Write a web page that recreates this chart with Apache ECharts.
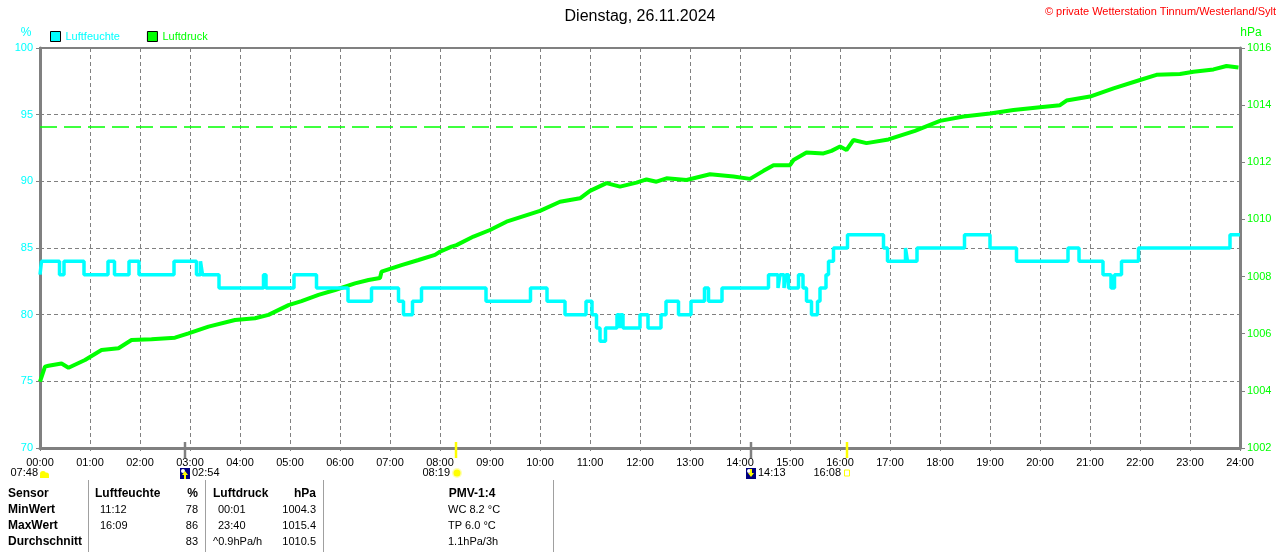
<!DOCTYPE html>
<html>
<head>
<meta charset="utf-8">
<script src="https://cdn.jsdelivr.net/npm/echarts@6/dist/echarts.min.js"></script>
<style>
html,body{margin:0;padding:0;background:#fff}
#main{width:1280px;height:552px}
</style>
</head>
<body>
<div id="main"></div>
<script>
var titleText = 'Dienstag, 26.11.2024';
var creditText = '\u00a9 private Wetterstation Tinnum/Westerland/Sylt';

// Luftdruck (hPa), Zeit in Stunden
var pressTime = [0, 0.1, 0.17, 0.43, 0.57, 0.9, 1.23, 1.57, 1.83, 2.23, 2.7, 2.97, 3.37, 3.9, 4.3, 4.57, 4.97,
  5.23, 5.57, 5.9, 6.3, 6.57, 6.8, 6.83, 7.23, 7.57, 7.9, 8.0, 8.23, 8.33, 8.67, 9.0, 9.33, 10.0, 10.4, 10.8,
  11.0, 11.33, 11.6, 11.93, 12.13, 12.33, 12.53, 12.93, 13.4, 13.87, 14.2, 14.47, 14.67, 15.0, 15.07, 15.33,
  15.67, 15.83, 16.0, 16.13, 16.27, 16.53, 16.97, 17.5, 18.0, 18.47, 19.0, 19.47, 20.0, 20.4, 20.53, 21.0,
  21.47, 22.0, 22.33, 22.8, 23.07, 23.47, 23.73, 23.97];
var pressVal = [1004.32, 1004.85, 1004.88, 1004.96, 1004.81, 1005.08, 1005.43, 1005.49, 1005.78, 1005.81,
  1005.86, 1006.01, 1006.25, 1006.48, 1006.54, 1006.66, 1007.0, 1007.14, 1007.36, 1007.53, 1007.76, 1007.88,
  1007.95, 1008.17, 1008.4, 1008.58, 1008.76, 1008.87, 1009.05, 1009.1, 1009.4, 1009.63, 1009.92, 1010.3,
  1010.62, 1010.74, 1011.0, 1011.27, 1011.15, 1011.29, 1011.4, 1011.32, 1011.44, 1011.38, 1011.58, 1011.5,
  1011.42, 1011.7, 1011.9, 1011.9, 1012.08, 1012.34, 1012.31, 1012.4, 1012.55, 1012.43, 1012.78, 1012.67,
  1012.8, 1013.1, 1013.45, 1013.6, 1013.71, 1013.83, 1013.93, 1014.0, 1014.16, 1014.3, 1014.59, 1014.88,
  1015.06, 1015.09, 1015.17, 1015.25, 1015.37, 1015.32];

// Luftfeuchte (%), Wechselzeitpunkte in Stunden
var humTime = [0, 0.03, 0.39, 0.48, 0.88, 1.36, 1.49, 1.78, 1.98, 2.68, 3.13, 3.21, 3.25, 3.58, 4.47, 4.52,
  5.08, 5.53, 6.16, 6.63, 7.17, 7.27, 7.45, 7.63, 8.92, 9.81, 10.14, 10.5, 10.92, 11.04, 11.13, 11.2, 11.31,
  11.54, 11.59, 11.61, 11.66, 12.0, 12.16, 12.42, 12.52, 12.77, 13.02, 13.29, 13.37, 13.64, 14.57, 14.76,
  14.8, 14.88, 14.92, 14.97, 15.17, 15.26, 15.33, 15.43, 15.55, 15.6, 15.72, 15.77, 15.87, 16.15, 16.87,
  16.95, 17.31, 17.35, 17.54, 18.49, 19.0, 19.53, 20.56, 20.78, 21.26, 21.42, 21.49, 21.63, 21.97, 23.8, 24];
var humVal = [83, 84, 83, 84, 83, 84, 83, 84, 83, 84, 83, 84, 83, 82, 83, 82,
  83, 82, 81, 82, 81, 80, 81, 82, 81, 82, 81, 80, 81, 80, 79, 78, 79,
  80, 79, 80, 79, 80, 79, 80, 81, 80, 81, 82, 81, 82, 83, 82,
  83, 82, 83, 82, 83, 82, 81, 80, 81, 82, 83, 84, 85, 86, 85,
  84, 85, 84, 85, 86, 85, 84, 85, 84, 83, 82, 83, 84, 85, 86, 86];

var refPressure = 1013.25;

// Mond/Sonne unter der Zeitachse
var events = [
  {time: '02:54', kind: 'moonUp'},
  {time: '08:19', kind: 'sunrise'},
  {time: '14:13', kind: 'moonDown'},
  {time: '16:08', kind: 'sunset'}
];
var dawnText = '07:48';

var tableRows = [
  ['Sensor', 'Luftfeuchte', '%', 'Luftdruck', 'hPa', 'PMV-1:4'],
  ['MinWert', '11:12', '78', '00:01', '1004.3', 'WC 8.2 \u00b0C'],
  ['MaxWert', '16:09', '86', '23:40', '1015.4', 'TP 6.0 \u00b0C'],
  ['Durchschnitt', '', '83', '^0.9hPa/h', '1010.5', '1.1hPa/3h']
];

var FONT = '"Liberation Sans", Arial, sans-serif';
var GREY = '#808080';
var CYAN = '#00ffff';
var GREEN = '#00ff00';

function pad(n){ return (n < 10 ? '0' : '') + n; }
function toHours(s){ var p = s.split(':'); return +p[0] + p[1] / 60; }

var humData = [], pressData = [];
for (var i = 0; i < humTime.length; i++) humData.push([humTime[i], humVal[i]]);
for (var j = 0; j < pressTime.length; j++) pressData.push([pressTime[j], pressVal[j]]);

var myChart = echarts.init(document.getElementById('main'));

var option = {
  animation: false,
  backgroundColor: '#fff',
  textStyle: {fontFamily: FONT},
  title: {
    text: titleText,
    left: 'center',
    top: 4,
    textStyle: {fontSize: 16, fontWeight: 'normal', color: '#000', fontFamily: FONT}
  },
  legend: {
    left: 50,
    top: 31,
    padding: 0,
    itemWidth: 10,
    itemHeight: 10,
    itemGap: 27,
    icon: 'rect',
    itemStyle: {borderColor: '#000', borderWidth: 1},
    textStyle: {fontSize: 11, fontFamily: FONT},
    data: [
      {name: 'Luftfeuchte', textStyle: {color: CYAN}},
      {name: 'Luftdruck', textStyle: {color: GREEN}}
    ]
  },
  grid: {
    left: 40, right: 40, top: 48, height: 400,
    show: true, borderColor: GREY, borderWidth: 2, backgroundColor: '#fff'
  },
  xAxis: {
    type: 'value',
    min: 0, max: 24, interval: 1,
    axisLine: {show: true, lineStyle: {color: GREY, width: 3}},
    axisTick: {show: true, length: 3, lineStyle: {color: GREY}},
    axisLabel: {
      color: '#000', fontSize: 11, fontFamily: FONT, margin: 9,
      formatter: function(v){ return pad(v) + ':00'; }
    },
    splitLine: {show: true, lineStyle: {color: GREY, type: [4, 3], width: 1}}
  },
  yAxis: [
    {
      type: 'value',
      min: 70, max: 100, interval: 5,
      position: 'left',
      axisLine: {show: true, lineStyle: {color: GREY, width: 3}},
      axisTick: {show: true, length: 4, lineStyle: {color: GREY}},
      axisLabel: {color: CYAN, fontSize: 11, fontFamily: FONT, margin: 7},
      splitLine: {show: true, lineStyle: {color: GREY, type: [4, 3], width: 1}}
    },
    {
      type: 'value',
      min: 1002, max: 1016, interval: 2,
      position: 'right',
      axisLine: {show: true, lineStyle: {color: GREY, width: 3}},
      axisTick: {show: true, length: 5, lineStyle: {color: GREY}},
      axisLabel: {
        color: GREEN, fontSize: 11, fontFamily: FONT, margin: 7,
        formatter: function(v){ return String(v); }
      },
      splitLine: {show: false}
    }
  ],
  series: [
    {
      name: 'Luftdruck',
      type: 'line',
      yAxisIndex: 1,
      data: pressData,
      showSymbol: false,
      color: GREEN,
      lineStyle: {color: GREEN, width: 4},
      markLine: {
        silent: true,
        symbol: 'none',
        label: {show: false},
        lineStyle: {color: GREEN, type: [17, 7], width: 1.5},
        data: [{yAxis: refPressure}]
      },
      z: 2
    },
    {
      name: 'Luftfeuchte',
      type: 'line',
      yAxisIndex: 0,
      data: humData,
      step: 'end',
      showSymbol: false,
      color: CYAN,
      lineStyle: {color: CYAN, width: 3.5},
      z: 3
    }
  ]
};

myChart.setOption(option);

// Texte, Symbole und Tabelle
var g = [];
function txt(x, y, s, color, size, bold, align){
  g.push({type: 'text', x: x, y: y, silent: true, style: {
    text: s, fill: color, font: (bold ? 'bold ' : '') + size + 'px ' + FONT,
    textAlign: align || 'left', textVerticalAlign: 'middle'
  }});
}

txt(1276, 12, creditText, '#ff0000', 11, false, 'right');
txt(26, 33, '%', CYAN, 12, false, 'center');
txt(1251, 33, 'hPa', GREEN, 12, false, 'center');

// Daemmerung links
txt(38, 473, dawnText, '#000', 11, false, 'right');
g.push({type: 'circle', shape: {cx: 43, cy: 474, r: 3}, style: {fill: '#ffff00'}, silent: true});
g.push({type: 'circle', shape: {cx: 46.5, cy: 475, r: 2.5}, style: {fill: '#ffff00'}, silent: true});
g.push({type: 'rect', shape: {x: 40, y: 475, width: 9, height: 3}, style: {fill: '#ffff00'}, silent: true});

events.forEach(function(ev){
  var x = Math.round(myChart.convertToPixel({xAxisIndex: 0}, toHours(ev.time)));
  var isMoon = ev.kind.indexOf('moon') === 0;
  g.push({type: 'line', silent: true, z: 10,
    shape: {x1: x, y1: 442, x2: x, y2: 458},
    style: {stroke: isMoon ? GREY : '#ffff00', lineWidth: 2.5}});
  if (isMoon) {
    g.push({type: 'rect', shape: {x: x - 5, y: 468, width: 10, height: 11}, style: {fill: '#000080'}, silent: true});
    g.push({type: 'circle', shape: {cx: x - 2, cy: 471, r: 2}, style: {fill: '#ffffff'}, silent: true});
    var up = ev.kind === 'moonUp';
    g.push({type: 'polygon', silent: true,
      shape: {points: up ? [[x, 471], [x - 3, 475], [x + 3, 475]] : [[x, 477], [x - 3, 473], [x + 3, 473]]},
      style: {fill: '#ffff00'}});
    g.push({type: 'rect', shape: {x: x - 1, y: up ? 475 : 469, width: 2, height: 4}, style: {fill: '#ffff00'}, silent: true});
    txt(x + 7, 473, ev.time, '#000', 11, false, 'left');
  } else if (ev.kind === 'sunrise') {
    g.push({type: 'circle', shape: {cx: x + 1, cy: 473, r: 5}, style: {fill: '#ffffb0'}, silent: true});
    g.push({type: 'circle', shape: {cx: x + 1, cy: 473, r: 3.5}, style: {fill: '#ffff00'}, silent: true});
    txt(x - 6, 473, ev.time, '#000', 11, false, 'right');
  } else {
    g.push({type: 'rect', shape: {x: x - 2.5, y: 470, width: 5, height: 6}, style: {fill: 'none', stroke: '#ffff00', lineWidth: 1}, silent: true});
    txt(x - 6, 473, ev.time, '#000', 11, false, 'right');
  }
});

// Tabelle
[88.5, 205.5, 323.5, 553.5].forEach(function(x){
  g.push({type: 'line', silent: true, shape: {x1: x, y1: 480, x2: x, y2: 552}, style: {stroke: '#a0a0a0', lineWidth: 1}});
});
var rowY = [494, 510, 526, 542];
var headX = [8, 95, 198, 213, 316, 472];
var headAlign = ['left', 'left', 'right', 'left', 'right', 'center'];
var valX = [8, 100, 198, 218, 316, 448];
var valAlign = ['left', 'left', 'right', 'left', 'right', 'left'];
tableRows.forEach(function(row, r){
  row.forEach(function(s, c){
    if (!s) return;
    if (r === 0) { txt(headX[c], rowY[r], s, '#000', 12, true, headAlign[c]); return; }
    if (c === 0) { txt(8, rowY[r], s, '#000', 12, true, 'left'); return; }
    var x = valX[c];
    if (c === 3 && s.charAt(0) === '^') x = headX[3];
    txt(x, rowY[r], s, '#000', 11, false, valAlign[c]);
  });
});

myChart.setOption({graphic: g});
</script>
</body>
</html>
